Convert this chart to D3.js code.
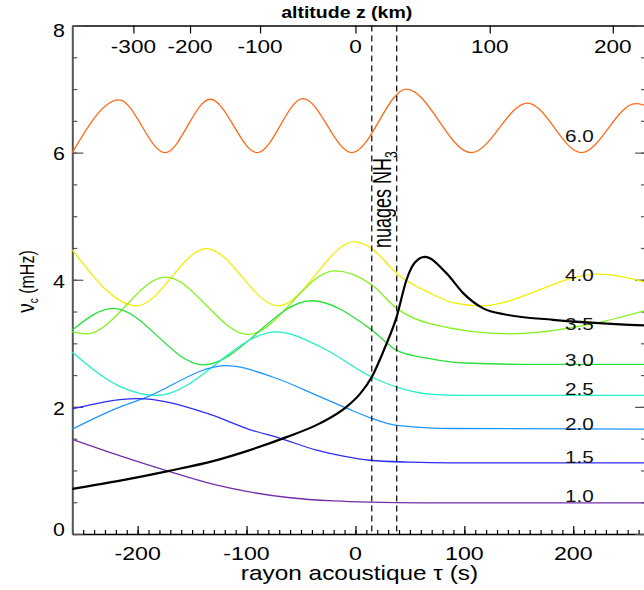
<!DOCTYPE html>
<html><head><meta charset="utf-8">
<script src="https://cdn.jsdelivr.net/npm/d3@7"></script>
<style>body{margin:0;background:#fff}svg{display:block}text{font-family:"Liberation Sans",Arial,Helvetica,sans-serif}</style>
</head><body><svg id="c" width="644" height="590"></svg>
<script>
// ---------- data ----------
const tauTicks = [-200, -100, 0, 100, 200];
const tauMinorTicks = d3.range(-260, 267, 10);
const nuTicks = [0, 2, 4, 6, 8];
const nuMinorTicks = d3.range(0, 8.01, 0.5);
const zTickLabels = [-300, -200, -100, 0, 100, 200];
const zTickTau = [-203.9, -151.9, -87.6, 0, 123.3, 236.3];
const cloudTau = [15, 37.9];

const nu60 = [[-260,6.0],[-217.2,6.83],[-174.9,6.0],[-133.4,6.84],[-90.1,6.0],[-48.2,6.85],[-3.3,6.0],[46.8,7.0],[106.4,6.0],[158,6.78],[207.5,6.0],[257.2,6.77],[266.8,6.74]];
const nu40 = [[-260,4.47],[-201,3.59],[-136.7,4.49],[-71,3.59],[-0.6,4.6],[15,4.49],[37.9,4.10],[68.3,3.79],[89.7,3.64],[114,3.59],[224,4.09],[266.8,3.96]];
const nu35 = [[-260,3.18],[-247,3.15],[-174.4,4.04],[-98.5,3.14],[-18.9,4.14],[15,3.92],[37.9,3.55],[68.3,3.31],[141.8,3.15],[218.3,3.31],[266.8,3.52]];
const nu30 = [[-260,3.21],[-222.5,3.55],[-139.9,2.66],[-40.3,3.67],[15,3.21],[37.9,2.89],[68.3,2.76],[100,2.69],[151,2.67],[266.8,2.67]];
const nu25 = [[-260,2.86],[-216,2.32],[-182.6,2.18],[-72.5,3.18],[-32.7,2.95],[15,2.47],[37.9,2.31],[68.3,2.2],[100,2.18],[266.8,2.18]];
const nu20 = [[-260,1.65],[-216,2.0],[-195,2.13],[-118.4,2.65],[-76,2.47],[-32.7,2.16],[-8.2,1.98],[15,1.82],[37.9,1.71],[89.4,1.66],[266.8,1.65]];
const nu15 = [[-260,1.97],[-200,2.13],[-136.7,1.9],[-96.5,1.64],[-70,1.51],[-35.7,1.32],[-10,1.22],[12.9,1.16],[50,1.13],[88,1.12],[266.8,1.12]];
const nu10 = [[-260,1.49],[-216,1.23],[-172,0.99],[-130,0.78],[-100,0.67],[-60,0.57],[-20,0.52],[13,0.5],[60,0.49],[266.8,0.49]];
const nuCutoff = [[-260,0.71],[-216,0.84],[-172,0.99],[-130,1.15],[-97,1.32],[-64,1.52],[-32.7,1.74],[-8.2,2.0],[4,2.2],[15,2.47],[27,2.93],[37.9,3.42],[46.9,4.0],[54.6,4.27],[63.7,4.36],[83.7,4.10],[98.9,3.79],[117.3,3.55],[138.8,3.45],[181.5,3.37],[266.8,3.28]];

const seriesData = [nu60, nu40, nu35, nu30, nu25, nu20, nu15, nu10];
const seriesLabels = ["6.0", "4.0", "3.5", "3.0", "2.5", "2.0", "1.5", "1.0"];
const seriesColors = ["#ff6a18", "#f2ee00", "#84f01e", "#28e03a", "#22eec8", "#1e96ff", "#2c2cf6", "#7030a8"];
const labelNu = [6.26, 4.08, 3.31, 2.74, 2.28, 1.73, 1.21, 0.6];
const labelTau = 205.6;

// ---------- setup ----------
const SX = 1.22;
const svg = d3.select("#c");
const x = d3.scaleLinear().domain([-260, 266.8]).range([72.3, 646]);
const y = d3.scaleLinear().domain([0, 8]).range([534, 25.5]);

// ---------- axes (d3.axis, inward ticks) ----------
function styleAxis(g, color, domainWidth, keepDomain) {
  g.selectAll("text").remove();
  if (!keepDomain) g.select(".domain").remove();
  g.select(".domain").attr("stroke", color).attr("stroke-width", domainWidth).attr("fill", "none");
  g.selectAll(".tick line").attr("stroke", color).attr("stroke-width", 1.2);
}
svg.append("g").attr("transform", `translate(0,${y(0)})`)
  .call(d3.axisBottom(x).tickValues(tauMinorTicks).tickSize(-4).tickSizeOuter(0))
  .call(g => styleAxis(g, "#000", 1.6, false));
svg.append("g").attr("transform", `translate(0,${y(0)})`)
  .call(d3.axisBottom(x).tickValues(tauTicks).tickSize(-8).tickSizeOuter(0))
  .call(g => styleAxis(g, "#000", 1.6, true));
svg.append("g").attr("transform", `translate(0,${y(8)})`)
  .call(d3.axisTop(x).tickValues(zTickTau).tickSize(-8).tickSizeOuter(0))
  .call(g => styleAxis(g, "#000", 1.6, true));
svg.append("g").attr("transform", `translate(${x.range()[0]},0)`)
  .call(d3.axisLeft(y).tickValues(nuMinorTicks).tickSize(-5).tickSizeOuter(0))
  .call(g => styleAxis(g, "#555", 2, false));
svg.append("g").attr("transform", `translate(${x.range()[0]},0)`)
  .call(d3.axisLeft(y).tickValues(nuTicks).tickSize(-11).tickSizeOuter(0))
  .call(g => styleAxis(g, "#555", 2, true));
svg.append("g").attr("transform", `translate(${x.range()[1]},0)`)
  .call(d3.axisRight(y).tickValues(nuMinorTicks).tickSize(-5).tickSizeOuter(0))
  .call(g => styleAxis(g, "#555", 2, false));
svg.append("g").attr("transform", `translate(${x.range()[1]},0)`)
  .call(d3.axisRight(y).tickValues(nuTicks).tickSize(-11).tickSizeOuter(0))
  .call(g => styleAxis(g, "#555", 2, true));

// ---------- curves (no clip-path; all data lie inside the domain) ----------
const lineGen = d3.line().x(d => x(d[0])).y(d => y(d[1])).curve(d3.curveMonotoneX);
seriesData.forEach((s, i) => {
  svg.append("path").attr("d", lineGen(s)).attr("fill", "none")
    .attr("stroke", seriesColors[i]).attr("stroke-width", 1.3);
});
svg.append("path").attr("d", lineGen(nuCutoff)).attr("fill", "none")
  .attr("stroke", "#000").attr("stroke-width", 2.2);

cloudTau.forEach(t => {
  svg.append("line").attr("x1", x(t)).attr("x2", x(t))
    .attr("y1", y(8)).attr("y2", y(0))
    .attr("stroke", "#000").attr("stroke-width", 1.2).attr("stroke-dasharray", "6,4");
});

// ---------- text ----------
function stext(px, py, str, size, anchor, weight) {
  return svg.append("g").attr("transform", `translate(${px},${py}) scale(${SX},1)`)
    .append("text").attr("text-anchor", anchor || "middle")
    .attr("font-size", size).attr("font-weight", weight || "normal")
    .attr("fill", "#000").text(str);
}

seriesLabels.forEach((l, i) => {
  stext(x(labelTau), y(labelNu[i]) + 6.2, l, 17, "middle").attr("fill", "#111");
});

tauTicks.forEach(t => stext(x(t), 559.5, String(t), 19, "middle"));
zTickLabels.forEach((z, i) => stext(x(zTickTau[i]), 52.7, String(z), 18.5, "middle"));
nuTicks.forEach(v => {
  const cy = Math.max(31, Math.min(529.5, y(v) + 1.5));
  stext(65, cy + 6.3, String(v), 17.5, "end");
});

stext(346.7, 18.3, "altitude z (km)", 16, "middle", "bold");
stext(359.5, 580, "rayon acoustique τ (s)", 20, "middle");

const yt = svg.append("g").attr("transform", `translate(34,281.5) rotate(-90) scale(1,1.3)`)
  .append("text").attr("text-anchor", "middle").attr("font-size", 16).attr("fill", "#000");
yt.append("tspan").attr("font-size", 19).text("ν");
yt.append("tspan").attr("font-size", 10).attr("dy", 3).text("c");
yt.append("tspan").attr("dy", -3).text(" (mHz)");

const ct = svg.append("g").attr("transform", `translate(391,248) rotate(-90) scale(1,1.4)`)
  .append("text").attr("text-anchor", "start").attr("font-size", 18).attr("fill", "#000");
ct.append("tspan").text("nuages NH");
ct.append("tspan").attr("font-size", 12).attr("dy", 4).text("3");
</script></body></html>
